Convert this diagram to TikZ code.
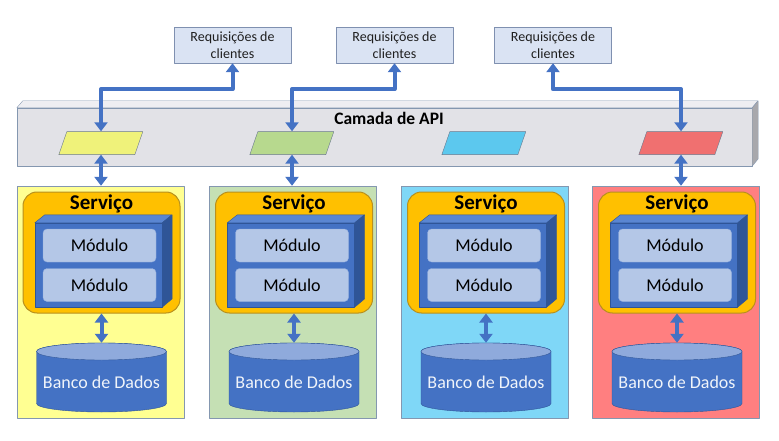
\documentclass[tikz,border=0pt]{standalone}
\usepackage{fontspec}
\setmainfont{Carlito}
\usetikzlibrary{arrows.meta}
\definecolor{seta}{HTML}{4472C4}
\definecolor{setaesc}{HTML}{2F5597}
\definecolor{reqfill}{HTML}{DAE3F3}
\definecolor{reqdraw}{HTML}{7F90B0}
\definecolor{barfrente}{HTML}{E2E2E7}
\definecolor{bartopo}{HTML}{EEEEF2}
\definecolor{barlado}{HTML}{A8A8AC}
\definecolor{bordacinza}{HTML}{8497B0}
\definecolor{laranja}{HTML}{FFC000}
\definecolor{laranjaesc}{HTML}{B8901E}
\definecolor{modfill}{HTML}{B4C7E7}
\definecolor{modtopo}{HTML}{5A86D2}
\definecolor{dbtopo}{HTML}{8FAADC}
\definecolor{pnlA}{HTML}{FFFF92}
\definecolor{pnlB}{HTML}{C5E0B4}
\definecolor{pnlC}{HTML}{7FD7F7}
\definecolor{pnlD}{HTML}{FF7F80}
\definecolor{parA}{HTML}{EFF27A}
\definecolor{parB}{HTML}{B7D98E}
\definecolor{parC}{HTML}{5CC8EE}
\definecolor{parD}{HTML}{F07070}

\begin{document}
\begin{tikzpicture}[x=1pt,y=-1pt,line join=round,>={Triangle[width=13pt,length=9pt]},
	req/.style={draw=reqdraw,fill=reqfill,minimum width=117pt,minimum height=36pt,inner sep=0pt,align=center,text=black!88,font=\fontsize{14}{17.5}\selectfont},
	link/.style={draw=seta,line width=4pt},
	painel/.style={draw=bordacinza,minimum width=167pt,minimum height=232pt,inner sep=0pt},
	para/.style={minimum width=76pt,minimum height=23pt,inner sep=0pt},
	servico/.style={draw=laranjaesc,fill=laranja,line width=1pt,rounded corners=14pt,minimum width=157pt,minimum height=121pt,inner sep=0pt},
	modulo/.style={draw=modfill!70!seta,fill=modfill,rounded corners=4pt,minimum width=113pt,minimum height=33pt,inner sep=0pt,font=\fontsize{18}{20}\selectfont},
	banco/.style={minimum width=130pt,minimum height=69pt,inner sep=0pt,text=white!92!seta,font=\fontsize{18}{20}\selectfont}]
		\useasboundingbox (0,0) rectangle (779,441);
		%\draw[help lines,step=20] (0,0) grid (779,441);
		% camada de API
		\node[draw=bordacinza,fill=barfrente,minimum width=735pt,minimum height=58pt,inner sep=0pt] (api) at (384.5,137) {};
		\filldraw[draw=bordacinza,fill=bartopo] (api.north west) -- ++(6,-7) -- ++(735,0) -- (api.north east) -- cycle;
		\filldraw[draw=bordacinza,fill=barlado] (api.north east) -- ++(6,-7) -- ++(0,58) -- (api.south east) -- cycle;
		\node[font=\bfseries\fontsize{17.5}{19}\selectfont] (apititulo) at (389,118) {Camada de API};
		\foreach \i/\x in {1/232.5,2/394.5,3/553}
		\node[req] (req\i) at (\x,45) {Requisições de\\clientes};
		% colunas de servico
		\foreach \i/\cx/\px/\cor in {1/100.5/101/A,2/293/292/B,3/485/484/C,4/676/681/D}{
			\node[para] (para\i) at (\px,143) {};
			\filldraw[draw=bordacinza!80!black,fill=par\cor] (para\i.south west) ++(-4,0) -- ++(8,-23) -- ++(76,0) -- ++(-8,23) -- cycle;
			\node[painel,fill=pnl\cor] (pnl\i) at (\cx,302) {};
			\node[servico] (svc\i) at (\cx+1,252.5) {};
			\node[font=\bfseries\fontsize{21}{23}\selectfont] (svctit\i) at (\cx+1,204) {Serviço};
			\node[draw=setaesc,fill=seta,minimum width=127pt,minimum height=84pt,inner sep=0pt] (mod\i) at (\cx-2,265) {};
			\filldraw[draw=setaesc,fill=modtopo] (mod\i.north west) -- ++(10,-8) -- ++(127,0) -- (mod\i.north east) -- cycle;
			\filldraw[draw=setaesc,fill=setaesc] (mod\i.north east) -- ++(10,-8) -- ++(0,84) -- (mod\i.south east) -- cycle;
			\node[modulo] (modA\i) at (\cx-1,245.5) {Módulo};
			\node[modulo] (modB\i) at (\cx-1,285) {Módulo};
			% banco de dados
			\coordinate (dbc\i) at (\cx+1,377.5);
			\filldraw[draw=setaesc,fill=seta] (dbc\i) ++(-65,-26) -- ++(0,52) arc[start angle=180,end angle=0,x radius=65,y radius=8.5] -- ++(0,-52) arc[start angle=0,end angle=-180,x radius=65,y radius=8.5] -- cycle;
			\filldraw[draw=setaesc,fill=dbtopo] (dbc\i) ++(0,-26) ellipse[x radius=65,y radius=8.5];
			\node[banco] (db\i) at (dbc\i) {\raisebox{-10.5pt}[0pt][0pt]{Banco de Dados}};
			\draw[link,<->] (svc\i.south) -- (db\i.north);
		}
		\draw[link,<->] (req1.south) -- ++(0,26) -| (para1.north);
		\draw[link,<->] (req2.south) -- ++(0,26) -| (para2.north);
		\draw[link,<->] (req3.south) -- ++(0,26) -| (para4.north);
		\foreach \i in {1,2,4}
		\draw[link,<->] (para\i.south) -- (para\i.south |- pnl\i.north);
		
\end{tikzpicture}
\end{document}
